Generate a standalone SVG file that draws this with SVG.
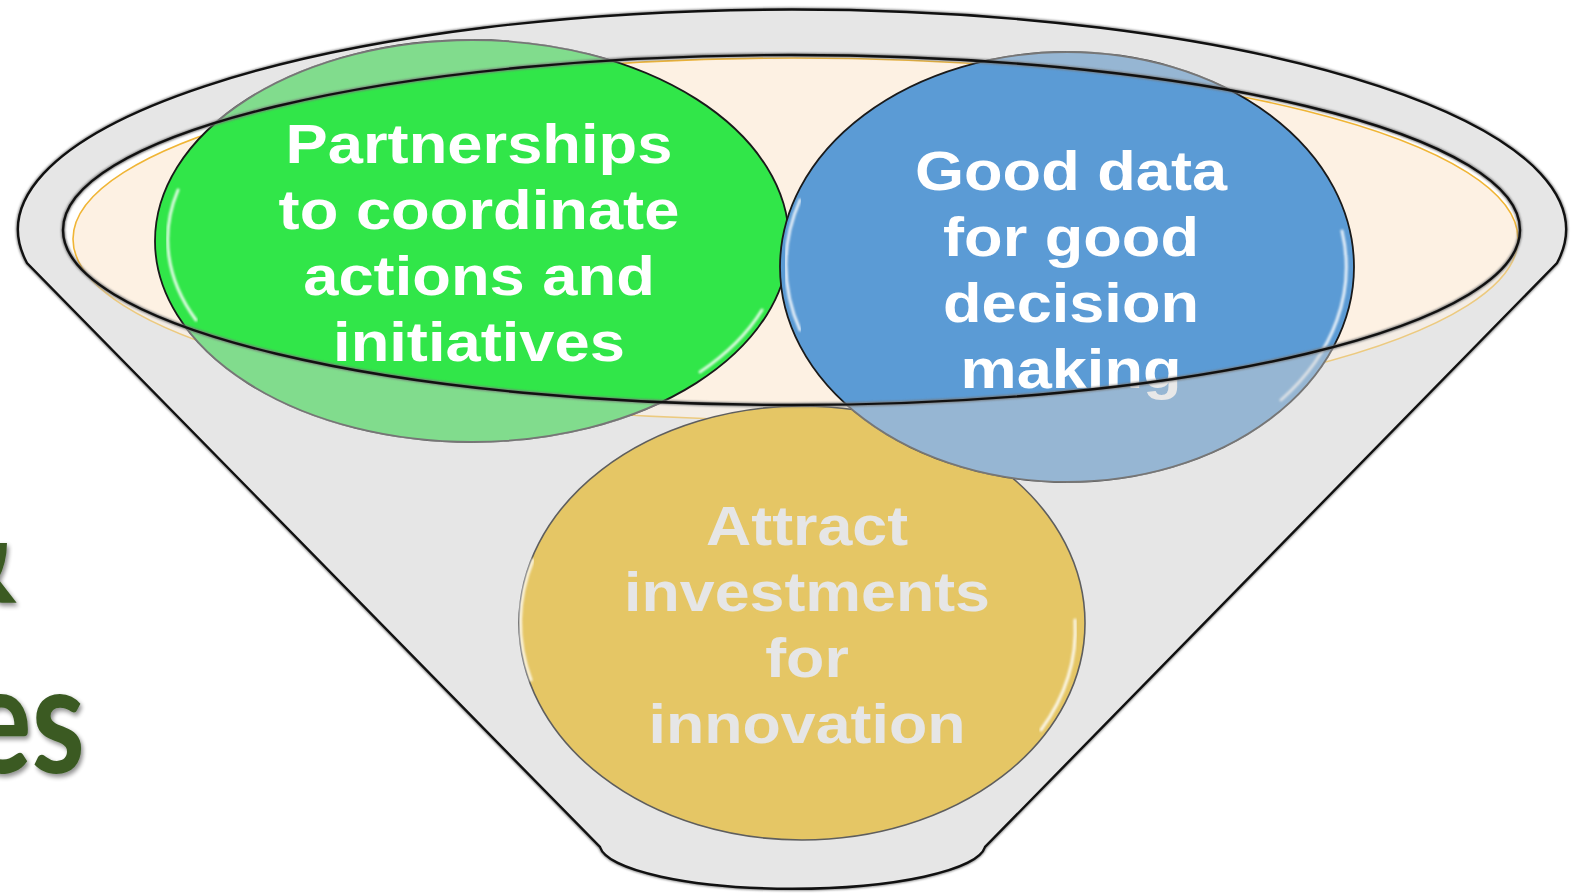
<svg xmlns="http://www.w3.org/2000/svg" width="1580" height="893" viewBox="0 0 1580 893">
  <style>
    .lbl { font-family: "Liberation Sans", Arial, sans-serif; font-weight: bold; font-size: 56px; text-anchor: middle; }
    .white { fill: #FFFFFF; }
    .pale { fill: #E6E6E6; }
    .big { font-family: Lato, "Open Sans", sans-serif; font-weight: bold; font-size: 152px; fill: #3A5A24; }
    .hl { fill: none; stroke: #FFFFFF; stroke-width: 3; stroke-linecap: round; opacity: 0.85; }
    .wall { fill: #E6E6E6; opacity: 0.42; }
    .cover { fill: #D2D2D2; opacity: 0.5; }
  </style>
  <defs>
    <filter id="soft" x="-5%" y="-5%" width="110%" height="110%">
      <feGaussianBlur stdDeviation="1.2"/>
    </filter>
    <filter id="shadow" x="-5%" y="-5%" width="110%" height="110%">
      <feGaussianBlur in="SourceAlpha" stdDeviation="2.5"/>
      <feOffset dx="2" dy="3" result="b"/>
      <feComponentTransfer><feFuncA type="linear" slope="0.45"/></feComponentTransfer>
      <feMerge><feMergeNode/><feMergeNode in="SourceGraphic"/></feMerge>
    </filter>
    <clipPath id="outsideRim">
      <path clip-rule="evenodd" d="M0,0 H1580 V893 H0 Z M63,230 A728.5,175 0 1 0 1520,230 A728.5,175 0 1 0 63,230 Z"/>
    </clipPath>
  </defs>

  <g id="title-fragments">
    <text class="big" transform="matrix(0.8 0 0 1 17 603)" text-anchor="end" filter="url(#shadow)">&amp;</text>
    <text class="big" transform="matrix(0.8 0 0 1 85 773)" text-anchor="end" filter="url(#shadow)">es</text>
  </g>

  <g id="funnel">
    <path d="M27,263 A774,220 0 1 1 1557,263 L985,847 A193,45 0 0 1 600,847 Z" fill="none" stroke="#888" stroke-width="4" filter="url(#soft)"/>
    <path d="M27,263 A774,220 0 1 1 1557,263 L985,847 A193,45 0 0 1 600,847 Z" fill="#E6E6E6"/>
    <ellipse cx="791.5" cy="230" rx="728.5" ry="175" fill="#FFFFFF"/>
    <ellipse cx="795.5" cy="239" rx="722.5" ry="181" fill="#FDF1E3" stroke="#F0B535" stroke-width="1.6"/>
    <path class="wall" fill-rule="evenodd" d="M27,263 A774,220 0 1 1 1557,263 L985,847 A193,45 0 0 1 600,847 Z M63,230 A728.5,175 0 1 0 1520,230 A728.5,175 0 1 0 63,230 Z"/>
  </g>

  <g id="node-attract">
    <ellipse cx="802" cy="623" rx="283" ry="217" fill="#E5C665" stroke="#5E5E5E" stroke-width="1.6"/>
    <path class="hl" filter="url(#soft)" d="M533,560 A275,209 0 0 0 531,680"/>
    <path class="hl" filter="url(#soft)" d="M1075,620 A275,209 0 0 1 1041,730"/>
    <g transform="translate(807 0) scale(1.12 1)">
      <text class="lbl pale" x="0" y="545">Attract</text>
      <text class="lbl pale" x="0" y="611">investments</text>
      <text class="lbl pale" x="0" y="677">for</text>
      <text class="lbl pale" x="0" y="743">innovation</text>
    </g>
  </g>

  <g id="node-partnerships">
    <ellipse cx="472" cy="241" rx="317" ry="201" fill="#31E649" stroke="#1A1A1A" stroke-width="1.8"/>
    <path class="hl" filter="url(#soft)" d="M178,190 A309,193 0 0 0 196,320"/>
    <path class="hl" filter="url(#soft)" d="M762,310 A309,193 0 0 1 700,372"/>
    <g transform="translate(479 0) scale(1.13 1)">
      <text class="lbl white" x="0" y="163">Partnerships</text>
      <text class="lbl white" x="0" y="229">to coordinate</text>
      <text class="lbl white" x="0" y="295">actions and</text>
      <text class="lbl white" x="0" y="361">initiatives</text>
    </g>
    <ellipse class="cover" clip-path="url(#outsideRim)" cx="472" cy="241" rx="318" ry="202"/>
  </g>

  <g id="node-gooddata">
    <ellipse cx="1067" cy="267" rx="287" ry="215" fill="#5B9BD5" stroke="#1A1A1A" stroke-width="1.8"/>
    <path class="hl" filter="url(#soft)" d="M1342,231 A279,207 0 0 1 1281,400"/>
    <path class="hl" filter="url(#soft)" d="M800,200 A279,207 0 0 0 800,330"/>
    <g transform="translate(1071 0) scale(1.127 1)">
      <text class="lbl white" x="0" y="190">Good data</text>
      <text class="lbl white" x="0" y="256">for good</text>
      <text class="lbl white" x="0" y="322">decision</text>
      <text class="lbl white" x="0" y="388">making</text>
    </g>
    <ellipse class="cover" clip-path="url(#outsideRim)" cx="1067" cy="267" rx="288" ry="216"/>
  </g>

  <g id="rim">
    <ellipse cx="791.5" cy="230" rx="728.5" ry="175" fill="none" stroke="#777" stroke-width="4" filter="url(#soft)"/>
    <ellipse cx="791.5" cy="230" rx="728.5" ry="175" fill="none" stroke="#111" stroke-width="2.4"/>
    <path d="M27,263 A774,220 0 1 1 1557,263 L985,847 A193,45 0 0 1 600,847 Z" fill="none" stroke="#111" stroke-width="2.4"/>
  </g>
</svg>
